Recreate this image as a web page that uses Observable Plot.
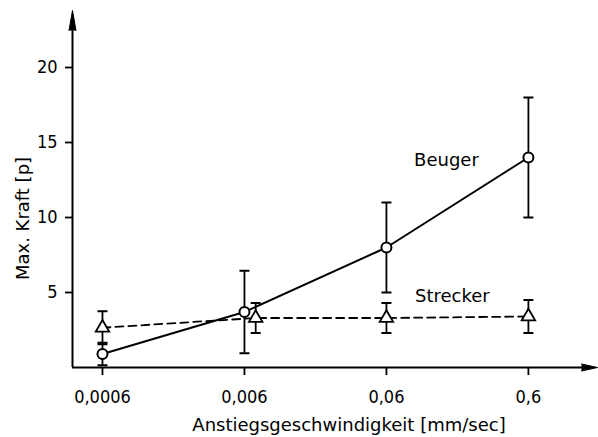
<!DOCTYPE html>
<html>
<head>
<meta charset="utf-8">
<script src="https://cdn.jsdelivr.net/npm/d3@7"></script>
<script src="https://cdn.jsdelivr.net/npm/@observablehq/plot@0.6"></script>
<style>
  html, body { margin: 0; padding: 0; background: #fff; }
  #chart svg { display: block; }
</style>
</head>
<body>
<div id="chart"></div>
<script>
// Data
const speeds = [0.0006, 0.006, 0.06, 0.6];
const speedLabels = ["0,0006", "0,006", "0,06", "0,6"];
const beugerMean = [0.9, 3.7, 8.0, 14.0];
const beugerErr = [0.75, 2.75, 3.0, 4.0];
const streckerX = [0.0006, 0.0072, 0.06, 0.6];
const streckerMean = [2.65, 3.3, 3.3, 3.4];
const streckerErr = [1.1, 1.0, 1.0, 1.1];
const yTicks = [5, 10, 15, 20];
const xTitle = "Anstiegsgeschwindigkeit [mm/sec]";
const yTitle = "Max. Kraft [p]";

const xDomain = [0.000369, 1.84];
const yDomain = [0, 23.8];

const beuger = speeds.map((x, i) => ({x, y: beugerMean[i], lo: beugerMean[i] - beugerErr[i], hi: beugerMean[i] + beugerErr[i]}));
const strecker = streckerX.map((x, i) => ({x, y: streckerMean[i], lo: streckerMean[i] - streckerErr[i], hi: streckerMean[i] + streckerErr[i]}));
const xTickData = speeds.map((x, i) => ({x, label: speedLabels[i]}));

const cap = {draw(ctx) { ctx.moveTo(-5, 0); ctx.lineTo(5, 0); }};
const font = "DejaVu Sans, sans-serif";
const tickFont = "DejaVu Sans Condensed, DejaVu Sans, sans-serif";

const errMarks = (data) => [
  Plot.ruleX(data, {x: "x", y1: "lo", y2: "hi", stroke: "black", strokeWidth: 1.8}),
  Plot.dot(data, {x: "x", y: "lo", symbol: cap, stroke: "black", strokeWidth: 2, fill: "none"}),
  Plot.dot(data, {x: "x", y: "hi", symbol: cap, stroke: "black", strokeWidth: 2, fill: "none"})
];

const chart = Plot.plot({
  width: 598,
  height: 437,
  marginLeft: 72,
  marginRight: 1,
  marginTop: 10,
  marginBottom: 70,
  style: {fontFamily: font, fontSize: "18px", background: "white", color: "black", overflow: "visible"},
  x: {type: "log", domain: xDomain},
  y: {domain: yDomain},
  marks: [
    // axis lines with arrowheads
    Plot.ruleX([xDomain[0]], {y1: yDomain[0], y2: yDomain[1] - 0.6, stroke: "black", strokeWidth: 2}),
    Plot.ruleY([0], {x1: xDomain[0], x2: xDomain[1] * 0.9, stroke: "black", strokeWidth: 2}),
    Plot.vector([{x: xDomain[0], y: yDomain[1]}], {x: "x", y: "y", length: 20, r: 3.5, rotate: 0, shape: "spike", anchor: "end", fill: "black", stroke: "black", strokeWidth: 1}),
    Plot.vector([{x: xDomain[1], y: 0}], {x: "x", y: "y", length: 16, r: 3.5, rotate: 90, shape: "spike", anchor: "end", fill: "black", stroke: "black", strokeWidth: 1}),
    Plot.axisY({ticks: yTicks, tickSize: 7, tickPadding: 8, strokeWidth: 1.8, label: null, fontSize: 18, fontFamily: tickFont}),
    Plot.axisX({ticks: speeds, tickFormat: () => "", tickSize: 8, strokeWidth: 1.8, label: null}),
    // x tick labels
    Plot.text(xTickData, {x: "x", text: "label", frameAnchor: "bottom", lineAnchor: "middle", textAnchor: "middle", dy: 29.5, fontSize: 18, fontFamily: tickFont, fill: "black"}),
    // axis titles
    Plot.text([xTitle], {text: d => d, frameAnchor: "bottom", lineAnchor: "middle", textAnchor: "middle", dx: 14, dy: 57.5, fontSize: 18, letterSpacing: "0.9px", fill: "black"}),
    Plot.text([yTitle], {text: d => d, frameAnchor: "left", lineAnchor: "middle", textAnchor: "middle", rotate: -90, dx: -49, dy: 29.5, fontSize: 18, letterSpacing: "1.2px", fill: "black"}),
    // Strecker (dashed, triangles)
    Plot.line(strecker, {x: "x", y: "y", stroke: "black", strokeWidth: 1.8, strokeDasharray: "8,5"}),
    ...errMarks(strecker),
    Plot.dot(strecker, {x: "x", y: "y", symbol: "triangle", r: 5, stroke: "black", strokeWidth: 1.8, fill: "white"}),
    // Beuger (solid, circles)
    Plot.line(beuger, {x: "x", y: "y", stroke: "black", strokeWidth: 2}),
    ...errMarks(beuger),
    Plot.dot(beuger, {x: "x", y: "y", symbol: "circle", r: 5, stroke: "black", strokeWidth: 2, fill: "white"}),
    // series labels
    Plot.text([beuger[3]], {x: "x", y: "y", text: () => "Beuger", dx: -82, dy: 3, fontSize: 18, fill: "black"}),
    Plot.text([strecker[3]], {x: "x", y: "y", text: () => "Strecker", dx: -76, dy: -20, fontSize: 18, fill: "black"})
  ]
});
document.getElementById("chart").appendChild(chart);
</script>
</body>
</html>
